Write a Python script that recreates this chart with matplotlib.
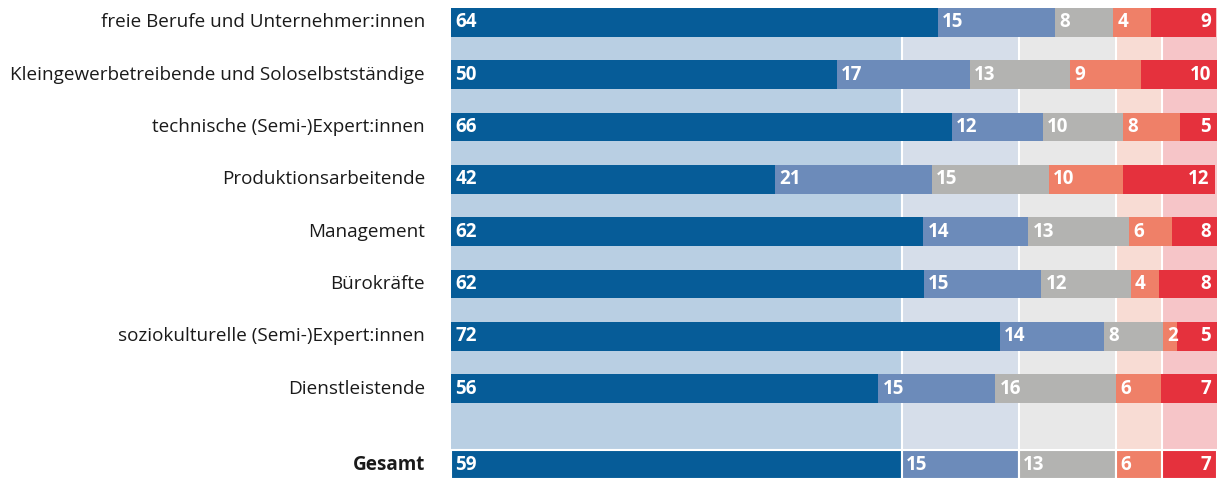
import matplotlib.pyplot as plt
from matplotlib import transforms

plt.rcParams['font.family'] = ['Open Sans', 'DejaVu Sans']

categories = ["freie Berufe und Unternehmer:innen",
              "Kleingewerbetreibende und Soloselbstständige",
              "technische (Semi-)Expert:innen",
              "Produktionsarbeitende",
              "Management",
              "Bürokräfte",
              "soziokulturelle (Semi-)Expert:innen",
              "Dienstleistende",
              "Gesamt"]

# bar widths (percent)
width_1 = [63.6, 50.4, 65.4, 42.3, 61.7, 61.8, 71.7, 55.8, 58.9]
width_2 = [15.3, 17.4, 11.9, 20.5, 13.7, 15.3, 13.6, 15.3, 15.3]
width_3 = [7.6, 13.1, 10.5, 15.3, 13.2, 11.7, 7.7, 15.8, 12.7]
width_4 = [4.9, 9.2, 7.4, 9.7, 5.6, 3.7, 1.8, 5.9, 6.0]
width_5 = [8.6, 9.9, 4.8, 12.0, 5.8, 7.5, 5.2, 7.2, 7.1]

# printed values
label_1 = [64, 50, 66, 42, 62, 62, 72, 56, 59]
label_2 = [15, 17, 12, 21, 14, 15, 14, 15, 15]
label_3 = [8, 13, 10, 15, 13, 12, 8, 16, 13]
label_4 = [4, 9, 8, 10, 6, 4, 2, 6, 6]
label_5 = [9, 10, 5, 12, 8, 8, 5, 7, 7]

colors = ['#065C98', '#6C8BBA', '#B3B3B1', '#EF8068', '#E5313D']
bg_colors = ['#B9CFE3', '#D6DEEA', '#E8E8E8', '#F8DCD4', '#F6C5C8']

widths = [width_1, width_2, width_3, width_4, width_5]
labels = [label_1, label_2, label_3, label_4, label_5]

ypos = [0, 1, 2, 3, 4, 5, 6, 7, 8.45]
bar_h = 0.55

fig = plt.figure(figsize=(12.19, 4.79), dpi=100)
ax = fig.add_axes([451 / 1219, 0, 765.5 / 1219, 1 - 8 / 479])

# background bands from the Gesamt row
left = 0
for i in range(5):
    w = widths[i][-1]
    ax.axvspan(left, left + w, color=bg_colors[i], lw=0, zorder=0)
    if i > 0:
        ax.axvline(left, color='white', lw=1.5, zorder=1)
    left += w

for r, y in enumerate(ypos):
    left = 0
    gesamt = (r == len(ypos) - 1)
    for i in range(5):
        w = widths[i][r]
        ax.barh(y, w, left=left, height=bar_h, color=colors[i],
                edgecolor='white' if gesamt else 'none',
                linewidth=1.5 if gesamt else 0, zorder=2)
        if i < 4:
            ax.text(left + 0.55, y, str(labels[i][r]), color='white',
                    fontsize=13.5, fontweight='bold', va='center', ha='left', zorder=3)
        else:
            ax.text(left + w - 0.7, y, str(labels[i][r]), color='white',
                    fontsize=13.5, fontweight='bold', va='center', ha='right', zorder=3)
        left += w

trans = transforms.blended_transform_factory(ax.transAxes, ax.transData)
for r, y in enumerate(ypos):
    ax.text(-0.034, y, categories[r], transform=trans, ha='right', va='center',
            fontsize=13.6, color='#1a1a1a',
            fontweight='bold' if r == len(ypos) - 1 else 'normal')

ax.set_xlim(0, 100)
ax.set_ylim(ypos[-1] + bar_h / 2, -bar_h / 2)
ax.axis('off')

plt.savefig('out.png', dpi=100)
